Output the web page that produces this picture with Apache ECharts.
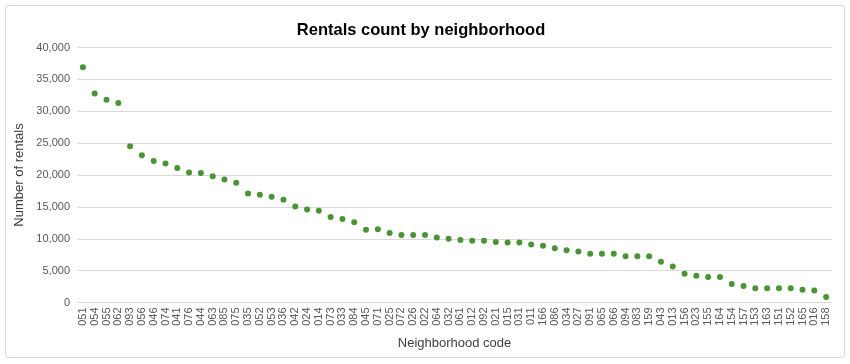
<!DOCTYPE html>
<html>
<head>
<meta charset="utf-8">
<script src="https://cdn.jsdelivr.net/npm/echarts@6/dist/echarts.min.js"></script>
<style>
html,body{margin:0;padding:0;background:#fff;}
#main{width:850px;height:364px;}
</style>
</head>
<body>
<div id="main"></div>
<script>
const categories = ["051","054","055","062","093","056","046","074","041","076","044","063","085","075","035","052","053","036","042","024","014","073","033","084","045","071","025","072","026","022","064","032","061","012","092","021","015","031","011","166","086","034","027","091","065","066","094","083","159","043","013","156","023","155","164","154","157","153","163","151","152","165","016","158"];
const rentals = [36900,32800,31800,31300,24500,23100,22200,21800,21100,20400,20300,19800,19300,18800,17100,16900,16600,16100,15050,14600,14400,13400,13100,12600,11400,11500,10900,10600,10600,10600,10200,10000,9800,9700,9700,9500,9400,9400,9100,8900,8500,8200,8000,7650,7650,7650,7250,7250,7250,6400,5650,4500,4200,4000,4000,2900,2600,2250,2250,2250,2250,2000,1900,850];
const yTicks = [0,5000,10000,15000,20000,25000,30000,35000,40000];

const chart = echarts.init(document.getElementById('main'), null, {renderer:'canvas'});
const font = '"Liberation Sans", Arial, sans-serif';
chart.setOption({
  animation:false,
  backgroundColor:'#ffffff',
  graphic:[{type:'rect',shape:{x:5.5,y:5.5,width:839,height:352,r:3},style:{fill:'none',stroke:'#d9d9d9',lineWidth:1},z:-1}],
  title:{text:'Rentals count by neighborhood',left:416,top:17,textAlign:'center',
    textStyle:{fontFamily:font,fontSize:16.5,fontWeight:'bold',color:'#000'}},
  grid:{left:77,right:18,top:47.5,bottom:61.5,containLabel:false},
  xAxis:{type:'category',data:categories,boundaryGap:true,
    name:'Neighborhood code',nameLocation:'middle',nameGap:34,
    nameTextStyle:{fontFamily:font,fontSize:13,color:'#404040'},
    axisLine:{lineStyle:{color:'#d9d9d9',width:1}},
    axisTick:{show:false},
    axisLabel:{interval:0,rotate:90,fontFamily:font,fontSize:11,color:'#595959',margin:5}},
  yAxis:{type:'value',min:yTicks[0],max:yTicks[yTicks.length-1],interval:5000,
    name:'Number of rentals',nameLocation:'middle',nameGap:50,nameRotate:90,
    nameTextStyle:{fontFamily:font,fontSize:13,color:'#404040'},
    axisLine:{show:false},axisTick:{show:false},
    splitLine:{lineStyle:{color:'#d9d9d9',width:1}},
    axisLabel:{fontFamily:font,fontSize:11,color:'#595959',margin:7,
      formatter:v=>v.toLocaleString('en-US')}},
  series:[{type:'scatter',data:rentals,symbol:'circle',symbolSize:6,
    itemStyle:{color:'#4b9436',opacity:1}}]
});
</script>
</body>
</html>
